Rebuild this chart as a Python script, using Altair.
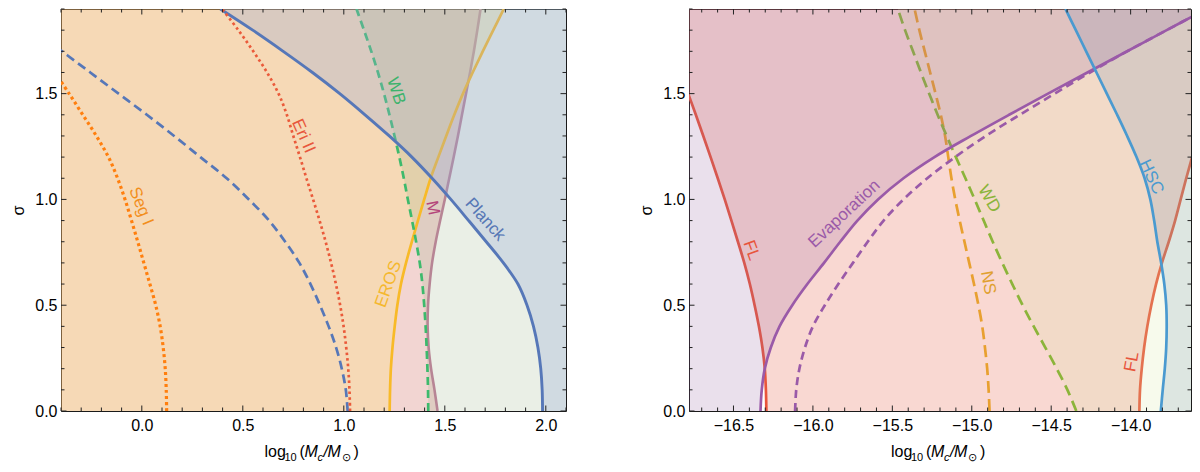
import altair as alt
import pandas as pd

SIGMA = [0.0, 0.1, 0.2, 0.3, 0.4, 0.5, 0.6, 0.7, 0.8, 0.9,
         1.0, 1.1, 1.2, 1.3, 1.4, 1.5, 1.6, 1.7, 1.8, 1.9]

# ---- left panel: log10(Mc/Msun) of each bound at every sigma ----
SEG_I = [0.123, 0.121, 0.116, 0.106, 0.091, 0.069, 0.040, 0.010, -0.020, -0.051,
         -0.083, -0.12, -0.165, -0.225, -0.292, -0.36, -0.43, None, None, None]
DASHED = [1.019, 1.01, 0.99, 0.962, 0.925, 0.882, 0.835, 0.78, 0.71, 0.63,
          0.53, 0.42, 0.29, 0.16, 0.025, -0.115, -0.255, -0.395, -0.535, None]
ERI_II = [1.031, 1.028, 1.022, 1.012, 0.999, 0.982, 0.961, 0.937, 0.91, 0.88,
          0.848, 0.815, 0.783, 0.75, 0.718, 0.677, 0.620, 0.552, 0.478, 0.398]
EROS = [1.227, 1.229, 1.233, 1.241, 1.252, 1.265, 1.283, 1.308, 1.337, 1.367,
        1.398, 1.43, 1.468, 1.507, 1.547, 1.59, 1.638, 1.688, 1.74, 1.792]
M_BOUND = [1.464, 1.449, 1.432, 1.42, 1.415, 1.417, 1.425, 1.437, 1.455, 1.477,
           1.50, 1.522, 1.544, 1.565, 1.585, 1.605, 1.625, 1.644, 1.661, 1.677]
WB = [1.418, 1.417, 1.414, 1.410, 1.405, 1.398, 1.389, 1.376, 1.358, 1.338,
      1.317, 1.297, 1.275, 1.251, 1.226, 1.199, 1.169, 1.136, 1.10, 1.063]
PLANCK = [1.984, 1.982, 1.975, 1.961, 1.939, 1.907, 1.862, 1.79, 1.705, 1.618,
          1.53, 1.437, 1.337, 1.225, 1.105, 0.98, 0.845, 0.70, 0.549, 0.389]

# ---- right panel ----
FL_LEFT = [-16.293, -16.296, -16.303, -16.318, -16.34, -16.367, -16.397, -16.432, -16.472, -16.513,
           -16.555, -16.599, -16.644, -16.69, -16.737, -16.785, -16.833, -16.882, -16.931, -16.98]
FL_RIGHT = [-13.945, -13.941, -13.93, -13.915, -13.895, -13.87, -13.84, -13.803, -13.76, -13.72,
            -13.685, -13.65, -13.613, -13.575, -13.535, -13.495, -13.455, -13.415, -13.375, -13.335]
EVAP = [-16.330, -16.322, -16.303, -16.265, -16.21, -16.13, -16.035, -15.93, -15.828, -15.72,
        -15.59, -15.43, -15.235, -15.005, -14.765, -14.52, -14.272, -14.022, -13.773, -13.523]
EVAP_DASH = [-16.112, -16.105, -16.085, -16.05, -16.0, -15.925, -15.84, -15.748, -15.655, -15.555,
             -15.43, -15.28, -15.105, -14.912, -14.698, -14.478, -14.256, -14.022, -13.773, -13.523]
NS = [-14.888, -14.894, -14.903, -14.917, -14.934, -14.958, -14.986, -15.016, -15.046, -15.076,
      -15.104, -15.128, -15.148, -15.168, -15.195, -15.228, -15.262, -15.296, -15.33, -15.36]
WD = [-14.342, -14.398, -14.465, -14.537, -14.61, -14.68, -14.745, -14.808, -14.868, -14.925,
      -14.982, -15.04, -15.1, -15.158, -15.215, -15.268, -15.32, -15.37, -15.42, -15.465]
HSC = [-13.81, -13.798, -13.785, -13.776, -13.773, -13.776, -13.788, -13.808, -13.832, -13.852,
       -13.876, -13.912, -13.963, -14.022, -14.085, -14.15, -14.215, -14.28, -14.345, -14.41]

LEFT_XTICKS = [0.0, 0.5, 1.0, 1.5, 2.0]
RIGHT_XTICKS = [-16.5, -16.0, -15.5, -15.0, -14.5, -14.0]
YTICKS = [0.0, 0.5, 1.0, 1.5]

W_LEFT, W_RIGHT, H = 505, 502, 402
FONT = "Liberation Sans"
CURVE = "catmull-rom"

left_df = pd.DataFrame({"s": SIGMA, "seg": SEG_I, "dash": DASHED, "eri": ERI_II,
                        "eros": EROS, "m": M_BOUND, "wb": WB, "planck": PLANCK})
right_df = pd.DataFrame({"s": SIGMA, "fll": FL_LEFT, "flr": FL_RIGHT, "ev": EVAP,
                         "evd": EVAP_DASH, "ns": NS, "wd": WD, "hsc": HSC})
one = pd.DataFrame({"a": [0]})


def panel(df, W, xdom, xticks, fills, lines, labels):
    xsc = alt.Scale(domain=xdom, nice=False, zero=False)
    ysc = alt.Scale(domain=[0, 1.9], nice=False, zero=False)
    xax = alt.Axis(values=xticks, format=".1f", ticks=False, tickSize=0, domain=False,
                   grid=False, labelFontSize=16, labelPadding=6, labelColor="black",
                   labelFont=FONT, title=None)
    yax = alt.Axis(values=YTICKS, format=".1f", ticks=False, tickSize=0, domain=False,
                   grid=False, labelFontSize=16, labelPadding=4, labelColor="black",
                   labelFont=FONT, title="σ", titleFont=FONT, titleFontSize=16,
                   titleFontWeight="normal", titleColor="black", titlePadding=8)

    def X(f):
        return alt.X(f, type="quantitative", scale=xsc, axis=xax)

    def Y(f):
        return alt.Y(f, type="quantitative", scale=ysc, axis=yax)

    layers = []
    for kind, spec in fills + lines:
        if kind == "fill":
            field, side, color, op = spec
            x2 = alt.datum(xdom[0] - 0.5) if side == "left" else alt.datum(xdom[1] + 0.5)
            if isinstance(field, tuple):
                x2 = alt.X2(field[1])
                field = field[0]
            layers.append(alt.Chart(df).mark_area(orient="horizontal", clip=True, color=color,
                                                  opacity=op, strokeWidth=0, interpolate=CURVE)
                          .encode(y=Y("s"), x=X(field), x2=x2))
        else:
            field, color, dash, width = spec
            kw = dict(clip=True, color=color, strokeWidth=width, strokeCap="butt",
                      interpolate=CURVE)
            if dash:
                kw["strokeDash"] = dash
            layers.append(alt.Chart(df).mark_line(**kw)
                          .encode(y=Y("s"), x=X(field), order=alt.Order("s:Q")))
    for text, xv, yv, ang, color in labels:
        layers.append(alt.Chart(one).mark_text(text=text, angle=ang % 360, fontSize=17, font=FONT,
                                               color=color, align="center", baseline="middle")
                      .encode(x=alt.datum(xv), y=alt.datum(yv)))
    # inward ticks on all four sides
    step = 0.1
    lo = round(xdom[0] * 10) / 10
    xminor = [round(lo + step * i, 1) for i in range(int((xdom[1] - lo) / step) + 2)]
    xminor = [v for v in xminor if xdom[0] <= v <= xdom[1] and v not in xticks]
    yminor = [round(step * i, 1) for i in range(20) if round(step * i, 1) not in YTICKS]
    for vals, size in ((xticks, 5.5), (xminor, 3.5)):
        d = pd.DataFrame({"v": vals})
        layers.append(alt.Chart(d).mark_rule(color="#222", strokeWidth=1)
                      .encode(x=X("v"), y=alt.value(H), y2=alt.value(H - size)))
        layers.append(alt.Chart(d).mark_rule(color="#222", strokeWidth=1)
                      .encode(x=X("v"), y=alt.value(0), y2=alt.value(size)))
    for vals, size in ((YTICKS, 5.5), (yminor, 3.5)):
        d = pd.DataFrame({"v": vals})
        layers.append(alt.Chart(d).mark_rule(color="#222", strokeWidth=1)
                      .encode(y=Y("v"), x=alt.value(0), x2=alt.value(size)))
        layers.append(alt.Chart(d).mark_rule(color="#222", strokeWidth=1)
                      .encode(y=Y("v"), x=alt.value(W), x2=alt.value(W - size)))
    # x-axis title log10(Mc/Msun) with sub-scripts, centred under the panel
    c0 = W / 2 - 49
    pieces = [("log", 0, 0, 16, "normal"), ("10", 20, 4, 11, "normal"),
              ("(", 35, 0, 16, "normal"), ("M", 40, 0, 16, "italic"),
              ("c", 53, 4, 11, "italic"), ("/", 59, 0, 16, "italic"),
              ("M", 63, 0, 16, "italic"), ("⊙", 77, 4, 11, "normal"),
              (")", 89, 0, 16, "normal")]
    for t, px, dy, fs, style in pieces:
        layers.append(alt.Chart(one).mark_text(text=t, fontSize=fs, font=FONT, fontStyle=style,
                                               color="black", align="left", baseline="alphabetic")
                      .encode(x=alt.value(c0 + px), y=alt.value(H + 46 + dy)))
    return alt.layer(*layers).properties(width=W, height=H)


left = panel(
    left_df, W_LEFT, [-0.4, 2.1], LEFT_XTICKS,
    fills=[("fill", ("m", "left", "#cb574b", 0.25)),
           ("line", ("m", "#c07b9a", None, 2.6)),
           ("fill", ("eros", "left", "#ffe676", 0.3)),
           ("fill", ("wb", "right", "#96af82", 0.2))],
    lines=[("line", ("eros", "#f8ba28", None, 2.7)),
           ("line", ("wb", "#3dba6c", [8, 5], 2.7)),
           ("fill", ("planck", "right", "#96a8d7", 0.3)),
           ("line", ("planck", "#5677b8", None, 2.9)),
           ("line", ("dash", "#5677b8", [9, 5], 2.7)),
           ("line", ("eri", "#ea5a3a", [2.6, 3], 2.7)),
           ("line", ("seg", "#ff7f0e", [3, 3], 3.2))],
    labels=[("Seg I", -0.004, 0.968, 68, "#f28e1c"),
            ("Eri II", 0.80, 1.30, 66, "#e8573c"),
            ("WB", 1.258, 1.512, 72, "#3cb36c"),
            ("M", 1.44, 0.96, 78, "#b5467a"),
            ("Planck", 1.70, 0.905, 48, "#5677b5"),
            ("EROS", 1.221, 0.60, -70, "#f5b82e")])

right = panel(
    right_df, W_RIGHT, [-16.78, -13.62], RIGHT_XTICKS,
    fills=[("fill", (("fll", "flr"), "between", "#e7634b", 0.25)),
           ("line", ("fll", "#e8553c", None, 2.7)),
           ("line", ("flr", "#e8553c", None, 2.7)),
           ("fill", ("wd", "right", "#d6e7a0", 0.2))],
    lines=[("line", ("ns", "#e8a030", [12, 6], 2.7)),
           ("line", ("wd", "#8cb43a", [11, 6], 2.7)),
           ("fill", ("hsc", "right", "#4b7aa9", 0.15)),
           ("fill", ("ev", "left", "#9664a0", 0.2)),
           ("line", ("ev", "#9a5aa8", None, 2.7)),
           ("line", ("evd", "#9a5aa8", [8, 5], 2.7)),
           ("line", ("hsc", "#4a9ad0", None, 2.7))],
    labels=[("FL", -16.388, 0.759, 70, "#e8553c"),
            ("Evaporation", -15.803, 0.932, -43, "#9b5aa8"),
            ("NS", -14.898, 0.606, 80, "#e0a030"),
            ("WD", -14.891, 1.003, 60, "#8ab43a"),
            ("HSC", -13.87, 1.106, 65, "#4a9ad0"),
            ("FL", -13.992, 0.232, -80, "#e8553c")])

chart = (alt.hconcat(left, right, spacing=71)
         .properties(padding={"left": 2, "top": 0, "right": 0, "bottom": 0})
         .configure_view(stroke="#1a1a1a", strokeWidth=1))

chart.save("out.html", embed_options={"renderer": "svg", "actions": False})
